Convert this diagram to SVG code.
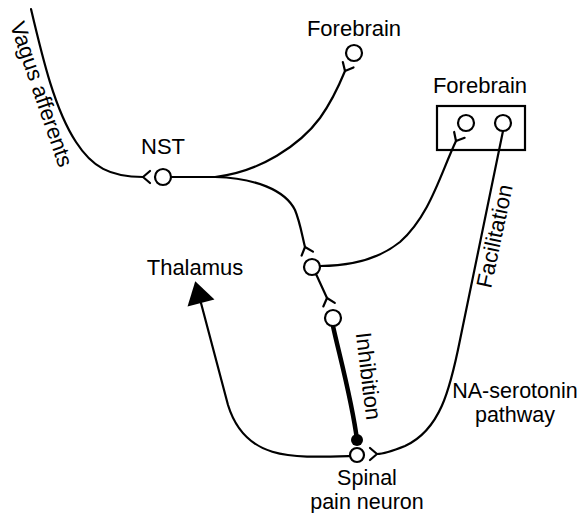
<svg xmlns="http://www.w3.org/2000/svg" xmlns:xlink="http://www.w3.org/1999/xlink" width="582" height="513" viewBox="0 0 582 513">
<style>
.ln{fill:none;stroke:#000;stroke-width:2.2;stroke-linecap:round}
.thick{fill:none;stroke:#000;stroke-width:4.5;stroke-linecap:round}
.cell{fill:#fff;stroke:#000;stroke-width:2.2}
.syn{fill:none;stroke:#000;stroke-width:2.2;stroke-linecap:round;stroke-linejoin:round}
.t{font-family:"Liberation Sans",Arial,Helvetica,sans-serif;font-size:22px;fill:#000}
.t2{font-family:"Liberation Sans",Arial,Helvetica,sans-serif;font-size:21.5px;fill:#000}
</style>
<defs>
<path id="y" d="M0,0 L7,-6 M0,0 L7,6"/>
<marker id="ah" markerUnits="userSpaceOnUse" markerWidth="30" markerHeight="30" viewBox="0 -14 22 28" refX="0" refY="0" orient="auto">
<path d="M0,-13 L21,0 L0,13 z" fill="#000"/>
</marker>
</defs>
<g id="connectors">
<path class="ln" d="M31,9 C43,60 55,110 76,142 C92,167 110,177 143,177"/>
<path class="ln" d="M171,177 L215,177"/>
<path class="ln" d="M215,177 C260,172 300,145 320,118 C330,104 338,88 345,71"/>
<path class="ln" d="M215,177 C255,178 285,190 295,210 C300,222 302,235 305,247"/>
<path class="ln" d="M456,141 C440,175 430,215 400,242 C375,262 345,266 320,266"/>
<path class="ln" d="M316,274 L327,298"/>
<path class="thick" d="M333,326 C338,350 352,400 357,440"/>
<path class="ln" d="M503,131 L460,340 C450,390 440,430 405,446 C395,450 385,454 377,454"/>
<path class="ln" d="M350,456 C290,458 245,460 228,405 L201,303" marker-end="url(#ah)"/>
<g class="syn">
<use xlink:href="#y" transform="translate(143,177)"/>
<use xlink:href="#y" transform="translate(345,71) rotate(-63)"/>
<use xlink:href="#y" transform="translate(456,141) rotate(-61)"/>
<use xlink:href="#y" transform="translate(305,247) rotate(71)"/>
<use xlink:href="#y" transform="translate(327,298) rotate(73)"/>
<use xlink:href="#y" transform="translate(377,454) rotate(180)"/>
</g>
</g>
<g id="vagus">
<text class="t" text-anchor="middle" transform="translate(42,94) rotate(71)" y="8">Vagus afferents</text>
</g>
<g id="nst">
<circle class="cell" cx="163" cy="177" r="8"/>
<text class="t" x="163" y="154" text-anchor="middle">NST</text>
</g>
<g id="forebrain1">
<circle class="cell" cx="354" cy="53" r="8"/>
<text class="t" x="354" y="36" text-anchor="middle">Forebrain</text>
</g>
<g id="forebrain2">
<rect x="437" y="106" width="88" height="44" fill="none" stroke="#000" stroke-width="2.2"/>
<circle class="cell" cx="466" cy="123" r="8"/>
<circle class="cell" cx="503" cy="123" r="8"/>
<text class="t" x="480" y="93" text-anchor="middle">Forebrain</text>
</g>
<g id="relay1">
<circle class="cell" cx="312" cy="267" r="8"/>
</g>
<g id="relay2">
<circle class="cell" cx="333" cy="318" r="8"/>
</g>
<g id="thalamus">
<text class="t" x="195" y="275" text-anchor="middle">Thalamus</text>
</g>
<g id="spinal">
<circle cx="357" cy="440" r="6" fill="#000"/>
<circle class="cell" cx="357" cy="455" r="7"/>
<text class="t2" x="367" y="485" text-anchor="middle">Spinal</text>
<text class="t2" x="367" y="509" text-anchor="middle">pain neuron</text>
</g>
<g id="labels">
<text class="t" text-anchor="middle" transform="translate(369,376) rotate(83)" y="8">Inhibition</text>
<text class="t" text-anchor="middle" transform="translate(494,236) rotate(-78)" y="8">Facilitation</text>
<text class="t2" x="515" y="398" text-anchor="middle">NA-serotonin</text>
<text class="t2" x="515" y="422" text-anchor="middle">pathway</text>
</g>
</svg>
